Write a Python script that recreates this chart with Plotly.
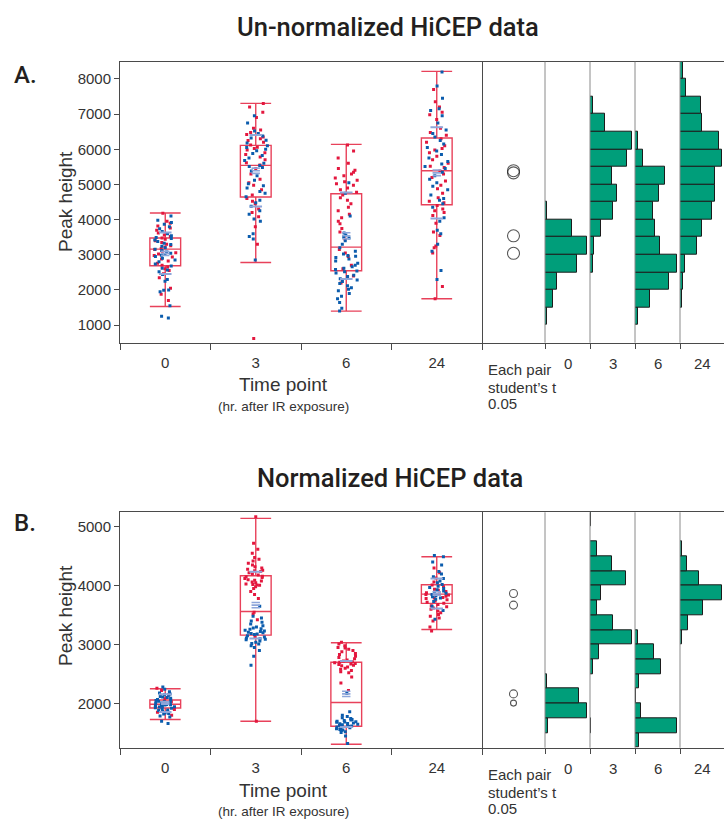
import plotly.graph_objects as go

W, H = 724, 819
CATS = ['0', '3', '6', '24']

# ---------------- Panel A (un-normalized) point values ----------------
A0_red = [4180, 3950, 3900, 3820, 3760, 3700, 3620, 3560, 3520, 3480, 3440, 3400, 3350, 3300, 3260, 3220,
          3180, 3150, 3100, 3060, 3020, 2980, 2940, 2880, 2820, 2760, 2700, 2650, 2600, 2550, 2460, 2350,
          2050, 1880, 1700]
A0_blue = [4100, 3980, 3920, 3870, 3800, 3740, 3660, 3600, 3540, 3490, 3460, 3420, 3380, 3330, 3290, 3240,
           3200, 3160, 3120, 3080, 3040, 3010, 2990, 2950, 2900, 2850, 2800, 2740, 2680, 2620, 2570, 2520,
           2440, 2300, 2250, 2000, 1990, 1950, 1550, 1250, 1200]
A3_red = [7300, 7200, 7050, 6900, 6600, 6550, 6480, 6420, 6350, 6300, 6250, 6200, 6120, 6060, 6020, 5980,
          5900, 5850, 5780, 5700, 5620, 5550, 5450, 5300, 5150, 5050, 4980, 4850, 4700, 4600, 4520, 4450,
          4300, 4200, 4080, 3800, 3300, 618]
A3_blue = [6950, 6750, 6520, 6450, 6380, 6320, 6260, 6180, 6100, 6050, 6000, 5960, 5880, 5820, 5750, 5680,
           5600, 5540, 5510, 5480, 5380, 5250, 5120, 5020, 4960, 4900, 4800, 4750, 4650, 4550, 4480, 4380,
           4250, 4150, 4020, 3950, 3600, 3520, 3450, 2850]
A6_red = [6120, 5950, 5750, 5600, 5450, 5400, 5350, 5300, 5250, 5180, 5120, 5080, 5020, 4980, 4900, 4850,
          4780, 4700, 4620, 4550, 4450, 4350, 4250, 4150, 4050, 3950, 3880, 3750, 3650, 3450, 3150, 3050,
          2950, 2700, 2600, 2400, 2200]
A6_blue = [5050, 4750, 4100, 3620, 3560, 3520, 3480, 3400, 3300, 3200, 3100, 3020, 2980, 2960, 2920, 2880,
           2820, 2760, 2700, 2660, 2620, 2580, 2540, 2520, 2480, 2420, 2380, 2320, 2280, 2240, 2180, 2120,
           2060, 2020, 1980, 1900, 1820, 1750, 1640, 1480, 1400]
A24_red = [7700, 7350, 7200, 7050, 6980, 6850, 6600, 6480, 6400, 6300, 6200, 6100, 6020, 5980, 5900, 5800,
           5700, 5600, 5520, 5480, 5380, 5300, 5200, 5100, 4980, 4880, 4750, 4620, 4520, 4480, 4400, 4300,
           4250, 4200, 4120, 3900, 3650, 3550, 3250, 3200, 3050, 2100, 1750]
A24_blue = [8200, 7800, 7450, 7150, 7100, 6950, 6750, 6550, 6450, 6350, 6250, 6150, 6050, 5950, 5850, 5750,
            5650, 5580, 5510, 5450, 5350, 5250, 5150, 5050, 4950, 4850, 4700, 4600, 4550, 4450, 4350, 4050,
            3950, 3700, 3600, 3300, 3100, 2550, 2300]

# Panel A box statistics (per time point)
A_q1 = [2687, 4642, 2545, 4423]
A_median = [3162, 5541, 3219, 5390]
A_q3 = [3475, 6111, 4736, 6321]
A_lofence = [1529, 2781, 1398, 1748]
A_hifence = [4187, 7306, 6139, 8216]
A_mean = [3042, 5390, 3540, 5330]
A_sd = [592, 1017, 1232, 1295]
A_se = [60, 75, 85, 80]

# Panel A histograms (bin lower edges, bin width, counts per time point)
A_edges = [1000, 1500, 2000, 2500, 3000, 3500, 4000, 4500, 5000, 5500, 6000, 6500, 7000, 7500, 8000]
A_binw = 500
A0_hist = [2, 8, 12, 32, 42, 27, 2, 0, 0, 0, 0, 0, 0, 0, 0]
A3_hist = [0, 0, 0, 3, 4, 11, 23, 27, 22, 37, 42, 15, 3, 0, 0]
A6_hist = [3, 15, 34, 42, 25, 20, 18, 24, 30, 8, 3, 0, 0, 0, 0]
A24_hist = [0, 2, 3, 5, 17, 22, 32, 35, 35, 42, 39, 22, 21, 6, 3]

# ---------------- Panel B (normalized) point values ----------------
B0_red = [2260, 2220, 2150, 2080, 2030, 1990, 1950, 1900, 1850, 1800]
B0_blue = [2280, 2240, 2200, 2180, 2160, 2140, 2120, 2100, 2090, 2070, 2050, 2040, 2020, 2010, 2005, 2150,
           2110, 2060, 2030, 2015, 1995, 1985, 1975, 1965, 1955, 1945, 1930, 1920, 1910, 1890, 1870, 1860,
           1840, 1820, 1790, 1770, 1980, 1960, 1940, 1880, 1830, 1700, 1660]
B3_red = [5170, 4720, 4620, 4550, 4480, 4450, 4420, 4380, 4350, 4320, 4300, 4280, 4260, 4255, 4240, 4220,
          4200, 4180, 4160, 4140, 4120, 4100, 4080, 4060, 4050, 4030, 4020, 4010, 4005, 4150, 4090, 3980,
          3950, 3900, 3850, 3780, 3550, 3520, 3420, 3120, 1700]
B3_blue = [3650, 3480, 3450, 3400, 3380, 3350, 3320, 3300, 3280, 3270, 3260, 3245, 3230, 3220, 3210, 3200,
           3190, 3180, 3170, 3150, 3130, 3110, 3100, 3090, 3080, 3060, 3040, 3020, 3010, 2980, 2950, 2900,
           2800, 2650]
B6_red = [3040, 3010, 2980, 2950, 2920, 2900, 2880, 2850, 2830, 2800, 2780, 2760, 2940, 2740, 2720, 2700,
          2690, 2680, 2670, 2660, 2650, 2640, 2620, 2600, 2580, 2560, 2540, 2520, 2710, 2450, 2350, 2220]
B6_blue = [2170, 1860, 1800, 1780, 1760, 1745, 1730, 1720, 1710, 1700, 1690, 1680, 1670, 1660, 1650, 1640,
           1630, 1620, 1610, 1600, 1590, 1580, 1570, 1560, 1550, 1540, 1520, 1510, 1685, 1655, 1625, 1450,
           1320]
B24_red = [4300, 4220, 4130, 4060, 4010, 3980, 3940, 3900, 3880, 3860, 3840, 3820, 3800, 3780, 3760, 3920,
           3850, 3790, 3740, 3720, 3700, 3680, 3660, 3640, 3620, 3600, 3570, 3540, 3510, 3480, 3450, 3400,
           3300, 3230]
B24_blue = [4510, 4490, 4400, 4350, 4240, 4200, 4150, 4120, 4080, 4050, 4020, 3990, 3970, 3950, 3930, 3910,
            3890, 3870, 3850, 3830, 3810, 3790, 3770, 3730, 3650, 3580, 3430]

B_q1 = [1925, 3160, 1614, 3699]
B_median = [1988, 3562, 2017, 3857]
B_q3 = [2060, 4168, 2701, 4015]
B_lofence = [1728, 1700, 1309, 3257]
B_hifence = [2250, 5142, 3030, 4490]
B_mean = [2007, 3670, 2163, 3868]
B_sd = [150, 566, 560, 255]
B_se = [20, 45, 45, 28]

B_edges = [1250, 1500, 1750, 2000, 2250, 2500, 2750, 3000, 3250, 3500, 3750, 4000, 4250, 4500, 4750, 5000]
B_binw = 250
B0_hist = [0, 3, 42, 34, 2, 0, 0, 0, 0, 0, 0, 0, 0, 0, 0, 0]
B3_hist = [0, 1, 0, 0, 0, 3, 9, 43, 24, 7, 11, 37, 22, 7, 0, 1]
B6_hist = [4, 43, 6, 1.5, 4, 27, 19, 3, 0, 0, 0, 0, 0, 0, 0, 0]
B24_hist = [0, 0, 0, 0, 0, 0, 0, 2, 8, 23, 42, 19, 7, 2, 0, 0]

TITLE_A = 'Un-normalized HiCEP data'
TITLE_B = 'Normalized HiCEP data'

# ---------------- styles ----------------
RED = '#e3173e'
BLUE = '#0b5cad'
BOXRED = '#e8415a'
LIGHTBLUE = '#8ea6da'
TEAL = '#009e7a'
FRAME = '#4a4a4a'
COLGRAY = '#8a8a8a'
TXT = '#333333'
SANS = 'Liberation Sans, Arial, sans-serif'
DIN = 'Roboto, sans-serif'


def px(p):
    return p / W


def py(p):
    return 1 - p / H


panels = [
    dict(top=61.7, bottom=342.7, yrange=[500, 8490], ytick=list(range(1000, 8001, 1000)),
         red=[A0_red, A3_red, A6_red, A24_red], blue=[A0_blue, A3_blue, A6_blue, A24_blue],
         q1=A_q1, med=A_median, q3=A_q3, lo=A_lofence, hi=A_hifence,
         mean=A_mean, sd=A_sd, se=A_se, circ=[12, 12, 12, 12],
         edges=A_edges, binw=A_binw, hists=[A0_hist, A3_hist, A6_hist, A24_hist],
         title=TITLE_A, title_xy=(388, 27), letter='A.', letter_y=75, ylab_y=202,
         xt_y=384, xs_y=406, each_y=[369.5, 387, 403], collab_y=363),
    dict(top=512.3, bottom=747.7, yrange=[1250, 5245], ytick=list(range(2000, 5001, 1000)),
         red=[B0_red, B3_red, B6_red, B24_red], blue=[B0_blue, B3_blue, B6_blue, B24_blue],
         q1=B_q1, med=B_median, q3=B_q3, lo=B_lofence, hi=B_hifence,
         mean=B_mean, sd=B_sd, se=B_se, circ=[6, 8, 8, 8],
         edges=B_edges, binw=B_binw, hists=[B0_hist, B3_hist, B6_hist, B24_hist],
         title=TITLE_B, title_xy=(390, 478), letter='B.', letter_y=523, ylab_y=616,
         xt_y=790, xs_y=811, each_y=[774, 792.5, 808], collab_y=768),
]


def ax(n):
    return '' if n == 1 else str(n)


fig = go.Figure()
layout = {}
annotations = []
shapes = []

for k, P in enumerate(panels):
    b = k * 6 + 1
    yref = 'y' + ax(b)
    ydom = [py(P['bottom']), py(P['top'])]

    # ----- box plot -----
    fig.add_trace(go.Box(
        x=CATS, q1=P['q1'], median=P['med'], q3=P['q3'],
        lowerfence=P['lo'], upperfence=P['hi'], boxpoints=False,
        width=0.34, whiskerwidth=1, fillcolor='rgba(0,0,0,0)',
        line=dict(color=BOXRED, width=1.4), xaxis='x' + ax(b), yaxis=yref,
        showlegend=False, hoverinfo='skip'))
    for vals_list, col in ((P['red'], RED), (P['blue'], BLUE)):
        xs, ys = [], []
        for c, vals in zip(CATS, vals_list):
            xs += [c] * len(vals)
            ys += vals
        fig.add_trace(go.Box(
            x=xs, y=ys, boxpoints='all', jitter=0.8, pointpos=0, width=0.34,
            fillcolor='rgba(0,0,0,0)', line=dict(width=0, color='rgba(0,0,0,0)'),
            marker=dict(color=col, size=3, symbol='square'),
            xaxis='x' + ax(b), yaxis=yref, showlegend=False, hoverinfo='y'))
    # mean / std dev lines
    sd_y = [m + s for m, s in zip(P['mean'], P['sd'])] + [m - s for m, s in zip(P['mean'], P['sd'])]
    fig.add_trace(go.Scatter(
        x=CATS + CATS, y=sd_y, mode='markers',
        marker=dict(symbol='line-ew', size=9, line=dict(color=LIGHTBLUE, width=2)),
        xaxis='x' + ax(b), yaxis=yref, showlegend=False, hoverinfo='skip'))
    se_y = (P['mean'] + [m + s for m, s in zip(P['mean'], P['se'])]
            + [m - s for m, s in zip(P['mean'], P['se'])])
    fig.add_trace(go.Scatter(
        x=CATS * 3, y=se_y, mode='markers',
        marker=dict(symbol='line-ew', size=6, line=dict(color=LIGHTBLUE, width=1.6)),
        xaxis='x' + ax(b), yaxis=yref, showlegend=False, hoverinfo='skip'))

    layout['xaxis' + ax(b)] = dict(
        domain=[px(120), px(482)], anchor=yref, type='category',
        categoryorder='array', categoryarray=CATS, range=[-0.5, 3.5],
        tickson='boundaries', ticks='outside', ticklen=6, tickcolor=FRAME,
        showline=True, mirror=True, linecolor=FRAME, linewidth=1,
        showgrid=False, zeroline=False, ticklabelstandoff=6,
        tickfont=dict(family=SANS, size=15, color=TXT))
    layout['yaxis' + ax(b)] = dict(
        domain=ydom, anchor='x' + ax(b), range=P['yrange'], tickvals=P['ytick'],
        ticks='outside', ticklen=5, tickcolor=FRAME, showline=True, mirror=True,
        linecolor=FRAME, linewidth=1, showgrid=False, zeroline=False,
        tickfont=dict(family=SANS, size=15, color=TXT))

    # ----- comparison circles -----
    fig.add_trace(go.Scatter(
        x=[0.5] * 4, y=P['mean'], mode='markers',
        marker=dict(symbol='circle-open', size=P['circ'], color='#111', line=dict(width=1.1)),
        xaxis='x' + ax(b + 1), yaxis=yref, showlegend=False, hoverinfo='y'))
    layout['xaxis' + ax(b + 1)] = dict(
        domain=[px(482), px(545)], anchor=yref, range=[0, 1], showline=True, mirror=True,
        linecolor=FRAME, linewidth=1, showgrid=False, zeroline=False,
        showticklabels=False, ticks='')

    # ----- histograms -----
    for i, (c, counts) in enumerate(zip(CATS, P['hists'])):
        n = b + 2 + i
        centers = [e + P['binw'] / 2 for e in P['edges']]
        fig.add_trace(go.Bar(
            x=counts, y=centers, orientation='h', width=P['binw'],
            marker=dict(color=TEAL, line=dict(color='#1b1b1b', width=1)),
            xaxis='x' + ax(n), yaxis=yref, showlegend=False, hoverinfo='x'))
        x0 = 545 + 45 * i
        x1 = min(x0 + 45, W)
        layout['xaxis' + ax(n)] = dict(
            domain=[px(x0), px(x1)], anchor=yref, range=[0, max(counts) * 1.07 * (x1 - x0) / 45],
            showline=True, mirror=True, linecolor=FRAME, linewidth=1,
            ticks='outside', tickvals=[0], ticklen=5, tickcolor=FRAME,
            showticklabels=False, showgrid=False, zeroline=False)
        shapes.append(dict(type='line', xref='x' + ax(n) + ' domain', yref=yref + ' domain',
                           x0=0, x1=0, y0=0, y1=1, line=dict(color=COLGRAY, width=1)))
        annotations.append(dict(text=c, xref='x' + ax(n) + ' domain', x=0.5, yref='paper',
                                y=py(P['collab_y']), xanchor='center', yanchor='middle',
                                showarrow=False, font=dict(family=SANS, size=15, color=TXT)))

    # ----- texts -----
    annotations += [
        dict(text=P['title'], x=px(P['title_xy'][0]), y=py(P['title_xy'][1]), xref='paper', yref='paper',
             xanchor='center', yanchor='middle', showarrow=False,
             font=dict(family=DIN, size=25.5, color='#231f20', weight=500)),
        dict(text=P['letter'], x=px(12), y=py(P['letter_y']), xref='paper', yref='paper',
             xanchor='left', yanchor='middle', showarrow=False,
             font=dict(family=DIN, size=24, color='#231f20', weight=500)),
        dict(text='Peak height', x=px(65), y=py(P['ylab_y']), xref='paper', yref='paper',
             xanchor='center', yanchor='middle', textangle=-90, showarrow=False,
             font=dict(family=SANS, size=19, color=TXT)),
        dict(text='Time point', x=px(283), y=py(P['xt_y']), xref='paper', yref='paper',
             xanchor='center', yanchor='middle', showarrow=False,
             font=dict(family=SANS, size=19, color=TXT)),
        dict(text='(hr. after IR exposure)', x=px(283), y=py(P['xs_y']), xref='paper', yref='paper',
             xanchor='center', yanchor='middle', showarrow=False,
             font=dict(family=SANS, size=13.5, color=TXT)),
    ]
    for line, yy in zip(['Each pair', 'student\u2019s t', '0.05'], P['each_y']):
        annotations.append(dict(text=line, x=px(486), y=py(yy), xref='paper', yref='paper',
                                xanchor='left', yanchor='middle', showarrow=False,
                                font=dict(family=SANS, size=15, color=TXT)))

layout.update(dict(
    width=W, height=H, margin=dict(l=0, r=0, t=0, b=0),
    paper_bgcolor='white', plot_bgcolor='white',
    boxmode='overlay', bargap=0, showlegend=False,
    annotations=annotations, shapes=shapes,
))
fig.update_layout(**layout)
fig.write_html('out.html', config={'displayModeBar': False},
               post_script="document.body.style.margin='0px';document.body.style.overflow='hidden';")
